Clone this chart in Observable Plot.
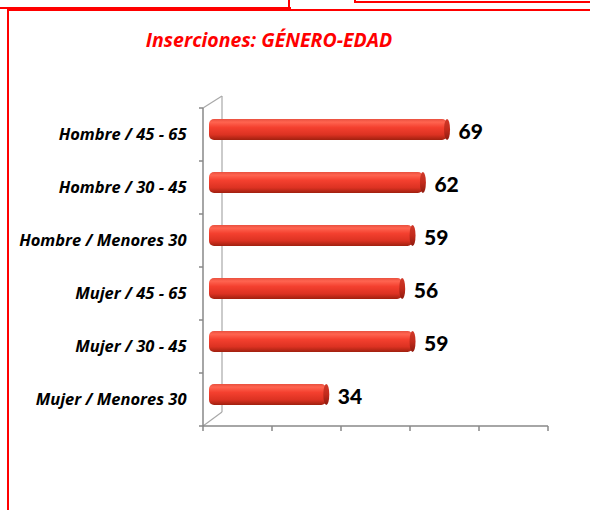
<!DOCTYPE html>
<html><head><meta charset="utf-8">
<script src="https://cdn.jsdelivr.net/npm/d3@7"></script>
<script src="https://cdn.jsdelivr.net/npm/@observablehq/plot@0.6"></script>
<style>
body{margin:0;background:#fff;}
#wrap{position:relative;width:590px;height:510px;overflow:hidden;background:#fff;font-family:"Open Sans",sans-serif;}
.b{position:absolute;background:#f00;}
#title{position:absolute;left:0;width:538px;top:28px;line-height:24px;text-align:center;color:#f00;font-family:"Open Sans",sans-serif;font-style:italic;font-weight:bold;font-size:19.5px;}
#chart{position:absolute;left:0;top:0;}
</style></head>
<body><div id="wrap">
<div class="b" style="left:0;top:7px;width:291px;height:2px"></div>
<div class="b" style="left:288px;top:0;width:2px;height:9px"></div>
<div class="b" style="left:7px;top:9px;width:583px;height:2px"></div>
<div class="b" style="left:7px;top:9px;width:2px;height:501px"></div>
<div class="b" style="left:354px;top:0;width:2px;height:3px"></div>
<div class="b" style="left:354px;top:1px;width:236px;height:2px"></div>
<div id="title">Inserciones: GÉNERO-EDAD</div>
<div id="chart"></div>
</div>
<script>
const categories = ["Hombre / 45 - 65", "Hombre / 30 - 45", "Hombre / Menores 30", "Mujer / 45 - 65", "Mujer / 30 - 45", "Mujer / Menores 30"];
const values = [69, 62, 59, 56, 59, 34];
const xTicks = [0, 20, 40, 60, 80, 100];

const data = categories.map((c, i) => ({cat: c, value: values[i]}));

const chart = Plot.plot({
  width: 590, height: 510,
  marginLeft: 209, marginRight: 36, marginTop: 102, marginBottom: 88,
  style: {fontFamily: "'Open Sans', sans-serif", color: "#000", background: "transparent"},
  x: {domain: [0, 100], axis: null},
  y: {domain: categories, padding: 0, axis: null, label: null},
  marks: [
    Plot.barX(data, {y: "cat", x: "value", insetTop: 16, insetBottom: 16, rx: 5, fill: "url(#cyl)"}),
    Plot.barX(data, {y: "cat", x1: "value", x2: "value", insetLeft: -3, insetRight: -3, insetTop: 16, insetBottom: 16, rx: 3, ry: 10.5, fill: "url(#cap)"}),
    Plot.text(data, {x: "value", y: "cat", text: d => String(d.value), dx: 11, dy: 2, textAnchor: "start", fontSize: 21, fontWeight: 900, fontFamily: "Lato, sans-serif", fill: "#000"}),
    Plot.axisY({label: null, tickSize: 0, tickPadding: 23, dy: 5, fontSize: 16.5, fontWeight: "bold", fontStyle: "italic", color: "#000"})
  ]
});
document.getElementById("chart").appendChild(chart);

const svg = d3.select(chart);
const defs = svg.insert("defs", ":first-child");
const g1 = defs.append("linearGradient").attr("id", "cyl").attr("x1", 0).attr("y1", 0).attr("x2", 0).attr("y2", 1);
[[0, "#e9503f"], [0.15, "#ff6450"], [0.4, "#f4402f"], [0.75, "#dc3222"], [1, "#a0200f"]]
  .forEach(([o, c]) => g1.append("stop").attr("offset", o).attr("stop-color", c));
const g2 = defs.append("linearGradient").attr("id", "cap").attr("x1", 0).attr("y1", 0).attr("x2", 0).attr("y2", 1);
[[0, "#d03a2a"], [0.5, "#c22b1c"], [1, "#8e1a0e"]]
  .forEach(([o, c]) => g2.append("stop").attr("offset", o).attr("stop-color", c));

// 3D frame drawn from Plot's own scales
const xs = chart.scale("x"), ys = chart.scale("y");
const bw = ys.bandwidth;
const bounds = categories.map(c => ys.apply(c)).concat([ys.apply(categories[categories.length - 1]) + bw]);
const yTop = bounds[0], yBot = bounds[bounds.length - 1];
const x0 = xs.apply(0);
const fx = x0 - 6, fdy = 5, bx = x0 + 13;
const frame = svg.insert("g", "g").attr("fill", "none");
const ln = (a, b, c, d, col, w) => frame.append("line").attr("x1", a).attr("y1", b).attr("x2", c).attr("y2", d).attr("stroke", col).attr("stroke-width", w);
ln(bx, yTop - 7, bx, yBot - 9, "#a8a8a8", 1.2);
ln(fx, yTop + fdy, bx, yTop - 7, "#a8a8a8", 1.2);
ln(fx, yBot + fdy, bx, yBot - 9, "#a8a8a8", 1.2);
ln(fx, yTop + fdy, fx, yBot + fdy, "#888", 1.5);
bounds.forEach(b => ln(fx - 4, b + fdy, fx, b + fdy, "#888", 1.5));
ln(fx, yBot + fdy, xs.apply(100) - 6, yBot + fdy, "#888", 1.5);
xTicks.forEach(t => ln(xs.apply(t) - 6, yBot + fdy, xs.apply(t) - 6, yBot + fdy + 5, "#888", 1.5));
</script>
</body></html>
